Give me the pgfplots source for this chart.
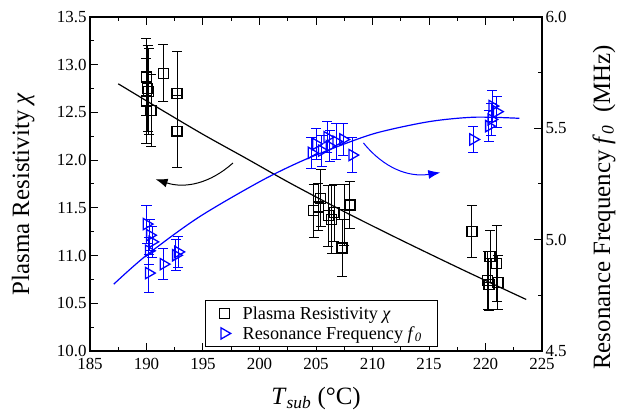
\documentclass[border=0pt]{standalone}
\usepackage{fontspec}
\setmainfont{Liberation Serif}
\usepackage{pgfplots}
\usepackage{pgfplotstable}
\pgfplotsset{compat=1.18}
\usetikzlibrary{arrows.meta}

\pgfplotstableread{
x y e
190.0 12.87 0.40
190.1 12.75 0.45
190.2 12.72 0.45
190.0 12.62 0.45
190.4 12.52 0.38
191.5 12.91 0.30
192.7 12.70 0.44
192.7 12.30 0.38
204.8 11.47 0.28
205.2 11.51 0.25
205.4 11.60 0.30
206.1 11.42 0.32
206.4 11.38 0.36
206.6 11.45 0.30
207.3 11.08 0.30
207.5 11.43 0.32
208.0 11.53 0.25
218.8 11.25 0.27
220.4 10.99 0.27
221.0 10.92 0.40
220.2 10.74 0.30
220.3 10.70 0.27
221.1 10.72 0.28
}\resist

\pgfplotstableread{
x y e
190.0 5.07 0.085
190.3 5.02 0.07
190.5 4.99 0.07
190.2 4.95 0.06
190.2 4.85 0.085
191.5 4.89 0.07
192.8 4.945 0.07
192.6 4.93 0.07
204.6 5.39 0.07
205.0 5.43 0.07
205.5 5.40 0.07
206.0 5.46 0.07
206.2 5.42 0.07
206.8 5.44 0.08
207.4 5.45 0.07
208.2 5.38 0.08
218.9 5.45 0.06
220.3 5.51 0.07
220.5 5.54 0.07
220.6 5.60 0.07
221.0 5.575 0.07
}\freq

\begin{document}
\begin{tikzpicture}
\pgfplotsset{
 common/.style={scale only axis, width=452bp, height=334bp, xmin=185, xmax=225,
   /pgf/number format/assume math mode=true,
   tick label style={font=\fontsize{17}{19}\selectfont},
   label style={font=\fontsize{25}{28}\selectfont},
   major tick length=8bp, minor tick length=4bp,
   every tick/.style={black, line width=1bp},
   axis line style={line width=1.3bp},
 }
}
\begin{axis}[common, ymin=10, ymax=13.5,
  xtick={185,190,...,225}, ytick={10,10.5,...,13.5},
  minor x tick num=1, minor y tick num=1,
  ytick pos=left, xtick pos=both,
  yticklabel style={/pgf/number format/.cd, fixed, fixed zerofill, precision=1},
  xticklabel style={yshift=-4bp, /pgf/number format/.cd, fixed, precision=0},
  xlabel={\textit{T}\textsubscript{\textit{sub}} (°C)},
  ylabel={Plasma Resistivity \textit{χ}},
  xlabel style={at={(axis description cs:0.5,-0.16)}, anchor=base},
  ylabel style={at={(axis description cs:-0.148,0.47)}, anchor=center},
]
\addplot[black, only marks, mark=square, mark size=5bp, mark options={line width=1.3bp},
  error bars/.cd, y dir=both, y explicit,
  error bar style={line width=0.9bp, black},
  error mark options={rotate=90, mark size=5bp, line width=0.9bp, black}]
  table[x=x, y=y, y error=e] {\resist};
\addplot[black, line width=1.2bp, smooth, no marks] coordinates {
 (187.5,12.80) (191,12.55) (195,12.27) (198.8,12.02) (202.7,11.76) (207.5,11.46) (212.4,11.17) (218,10.85) (223.6,10.54)};
\draw[black, line width=1bp, -{Latex[length=12bp,width=9bp]}] (axis cs:197.65,11.97) to[bend left=30] (axis cs:190.8,11.80);
\draw[blue, line width=1bp, -{Latex[length=12bp,width=9bp]}] (axis cs:209.2,12.18) to[bend right=30] (axis cs:216.0,11.87);
\end{axis}
\begin{axis}[common, axis x line=none, axis y line*=right,
  ymin=4.5, ymax=6, ytick={4.5,5,5.5,6}, minor y tick num=1,
  yticklabel style={/pgf/number format/.cd, fixed, fixed zerofill, precision=1},
  ylabel={Resonance Frequency \textit{f}\textsubscript{\textit{0}}\ \ (MHz)},
  ylabel style={at={(axis description cs:1.137,0.43)}, anchor=center},
  legend style={at={(axis description cs:0.254,0.012)}, anchor=south west,
    draw=black, line width=0.8bp,
    row sep=1.5bp, column sep=10bp, inner xsep=14bp, inner ysep=4bp},
  legend cell align=left,
]
\addlegendimage{only marks, mark=square, mark size=5bp, black, mark options={line width=1.3bp}}
\addlegendentry{\fontsize{18.3}{21}\selectfont Plasma Resistivity \textit{χ}}
\addplot[blue, only marks, mark=triangle, mark size=6.5bp, mark options={rotate=-90, line width=1.3bp},
  error bars/.cd, y dir=both, y explicit,
  error bar style={line width=0.9bp, blue},
  error mark options={rotate=90, mark size=5bp, line width=0.9bp, blue}]
  table[x=x, y=y, y error=e] {\freq};
\addlegendentry{\fontsize{18.3}{21}\selectfont Resonance Frequency \textit{f}\textsubscript{\textit{0}}}
\addplot[blue, line width=1.2bp, smooth, no marks, forget plot] coordinates {
 (187.1,4.80) (190,4.93) (194.6,5.10) (200,5.26) (203.6,5.35) (207,5.42) (210.4,5.48) (215,5.53) (219,5.55) (223,5.545)};
\end{axis}
\pgfresetboundingbox
\path[use as bounding box] (-90bp,-65bp) rectangle (532bp,351bp);
\end{tikzpicture}
\end{document}
